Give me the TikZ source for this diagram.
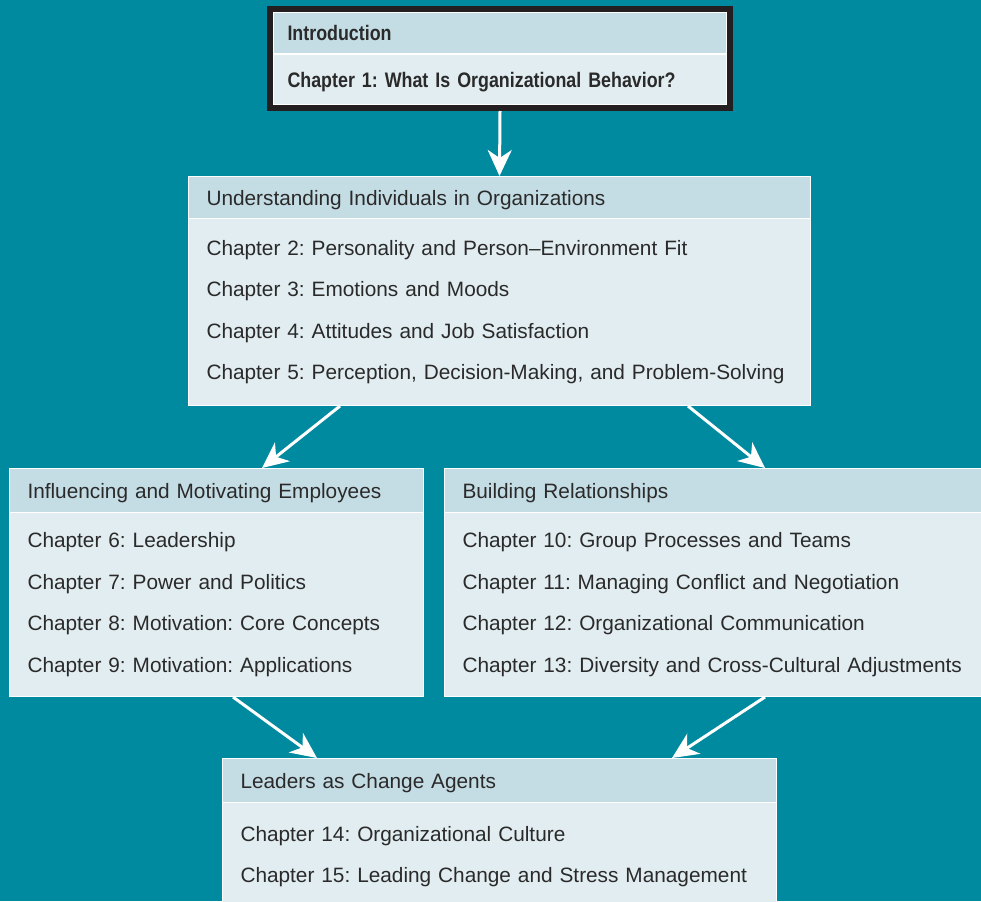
\documentclass[tikz,border=0pt]{standalone}
\usepackage{fontspec}
\setmainfont{Liberation Sans}
\newfontfamily\condfont[FakeStretch=0.85]{Liberation Sans}
\usetikzlibrary{arrows.meta}
\frenchspacing

\definecolor{bgteal}{HTML}{008A9F}
\definecolor{headblue}{HTML}{C4DDE4}
\definecolor{bodyblue}{HTML}{E1EDF0}
\definecolor{inkgray}{HTML}{2B2A2B}
\definecolor{frameblack}{HTML}{231F20}

\tikzset{
  head/.style={fill=headblue, draw=white, line width=1pt, anchor=north west,
    align=left, inner xsep=18pt, inner ysep=0pt, text depth=0pt, text=inkgray,
    font=\fontsize{20.8}{24}\selectfont},
  body/.style={fill=bodyblue, draw=white, line width=1pt, anchor=north west,
    align=left, inner xsep=18pt, inner ysep=0pt, text=inkgray,
    font=\fontsize{20.8}{41.5}\selectfont},
  introbox/.style={fill=#1, draw=white, line width=1pt, anchor=north west,
    align=left, inner xsep=14pt, inner ysep=0pt, text depth=0pt, text=inkgray,
    font=\condfont\bfseries\fontsize{21}{24}\selectfont},
  flow/.style={draw=white, line width=3pt, -{Stealth[length=26pt,width=24pt,inset=8pt]}}
}

\begin{document}
\begin{tikzpicture}[x=1pt, y=-1pt]
  % fondo
  \fill[bgteal] (0,0) rectangle (981,901);
  \useasboundingbox (0,0) rectangle (981,901);

  % introduccion
  \node[introbox=headblue, text width=425, minimum height=41] (intro-head) at (273,12) {Introduction};
  \node[introbox=bodyblue, text width=425, minimum height=50] (intro-body) at (273,54) {Chapter 1: What Is Organizational Behavior?};
  \draw[frameblack, line width=6pt] ([shift={(-3,-3)}]intro-head.north west) rectangle ([shift={(3,3)}]intro-body.south east);

  % individuos
  \node[head, text width=586, minimum height=42] (indiv-head) at (188,176) {Understanding Individuals in Organizations};
  \node[body, text width=586, minimum height=187] (indiv-body) at (188,218) {Chapter 2: Personality and Person--Environment Fit\\
    Chapter 3: Emotions and Moods\\
    Chapter 4: Attitudes and Job Satisfaction\\
    Chapter 5: Perception, Decision-Making, and Problem-Solving};

  % motivacion
  \node[head, text width=378, minimum height=44] (infl-head) at (9,468) {Influencing and Motivating Employees};
  \node[body, text width=378, minimum height=184] (infl-body) at (9,512) {Chapter 6: Leadership\\
    Chapter 7: Power and Politics\\
    Chapter 8: Motivation: Core Concepts\\
    Chapter 9: Motivation: Applications};

  % relaciones
  \node[head, text width=510, minimum height=44] (build-head) at (444,468) {Building Relationships};
  \node[body, text width=510, minimum height=184] (build-body) at (444,512) {Chapter 10: Group Processes and Teams\\
    Chapter 11: Managing Conflict and Negotiation\\
    Chapter 12: Organizational Communication\\
    Chapter 13: Diversity and Cross-Cultural Adjustments};

  % cambio
  \node[head, text width=518, minimum height=44] (chg-head) at (222,758) {Leaders as Change Agents};
  \node[body, text width=518, minimum height=108] (chg-body) at (222,802) {Chapter 14: Organizational Culture\\
    Chapter 15: Leading Change and Stress Management};

  % flechas
  \draw[flow] ([yshift=-6pt]intro-body.south) -- (indiv-head.north);
  \draw[flow] ([xshift=152pt]indiv-body.south west) -- ([xshift=253pt]infl-head.north west);
  \draw[flow] ([xshift=500pt]indiv-body.south west) -- ([xshift=321pt]build-head.north west);
  \draw[flow] ([xshift=224pt]infl-body.south west) -- ([xshift=95pt]chg-head.north west);
  \draw[flow] ([xshift=321pt]build-body.south west) -- ([xshift=450pt]chg-head.north west);
\end{tikzpicture}
\end{document}
